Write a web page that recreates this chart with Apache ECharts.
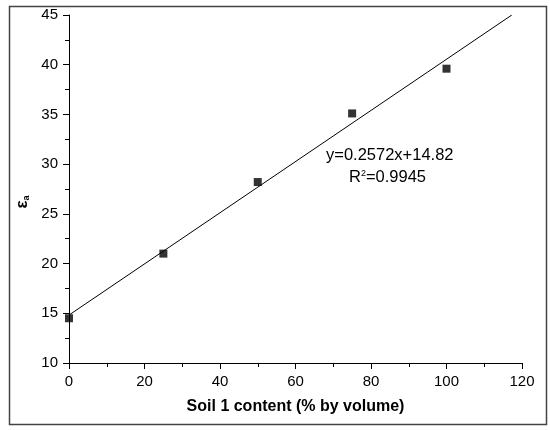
<!DOCTYPE html>
<html>
<head>
<meta charset="utf-8">
<script src="https://cdn.jsdelivr.net/npm/echarts@6/dist/echarts.min.js"></script>
<style>
html,body{margin:0;padding:0;background:#fff;}
#c{width:550px;height:430px;}
</style>
</head>
<body>
<div id="c"></div>
<script>
// Measured points
var soilContent = [0, 25, 50, 75, 100];
var epsilonA = [14.5, 21.0, 28.2, 35.1, 39.6];
// Linear fit line endpoints (as drawn)
var fitX = [0, 117.3];
var fitY = [14.82, 45.0];
var xTicks = [0, 20, 40, 60, 80, 100, 120];
var yTicks = [10, 15, 20, 25, 30, 35, 40, 45];
var eqText = 'y=0.2572x+14.82';
var r2Value = '0.9945';

var chart = echarts.init(document.getElementById('c'), null, {renderer: 'canvas'});
var font = 'Liberation Sans, Arial, sans-serif';
var option = {
  animation: false,
  backgroundColor: '#fff',
  grid: {left: 69, right: 28, top: 15, bottom: 67, containLabel: false},
  xAxis: {
    type: 'value', min: xTicks[0], max: xTicks[xTicks.length - 1], interval: 20,
    name: 'Soil 1 content (% by volume)', nameLocation: 'middle', nameGap: 36,
    nameMoveOverlap: false,
    nameTextStyle: {fontFamily: font, fontSize: 16, fontWeight: 'bold', color: '#000'},
    axisLine: {show: true, onZero: false, lineStyle: {color: '#000', width: 1}},
    axisTick: {show: true, inside: false, length: 6, lineStyle: {color: '#000'}},
    minorTick: {show: true, splitNumber: 2, length: 4, lineStyle: {color: '#000'}},
    axisLabel: {fontFamily: font, fontSize: 15, color: '#000', margin: 11},
    splitLine: {show: false}
  },
  yAxis: {
    type: 'value', min: yTicks[0], max: yTicks[yTicks.length - 1], interval: 5,
    name: '{e|ε}{s|a}', nameLocation: 'middle', nameGap: 38, nameRotate: 90,
    nameMoveOverlap: false,
    nameTextStyle: {
      padding: [0, 26, 0, 0],
      rich: {
        e: {fontFamily: font, fontSize: 17, fontWeight: 'bold', color: '#000'},
        s: {fontFamily: font, fontSize: 9, fontWeight: 'bold', color: '#000', padding: [8, 0, 0, 0]}
      }
    },
    axisLine: {show: true, onZero: false, lineStyle: {color: '#000', width: 1}},
    axisTick: {show: true, inside: false, length: 6, lineStyle: {color: '#000'}},
    minorTick: {show: true, splitNumber: 2, length: 4, lineStyle: {color: '#000'}},
    axisLabel: {fontFamily: font, fontSize: 15, color: '#000', margin: 11},
    splitLine: {show: false}
  },
  series: [
    {
      type: 'line',
      data: fitX.map(function (x, i) { return [x, fitY[i]]; }),
      showSymbol: false, symbol: 'none',
      lineStyle: {color: '#000', width: 1},
      clip: true, z: 2
    },
    {
      type: 'scatter',
      data: soilContent.map(function (x, i) { return [x, epsilonA[i]]; }),
      symbol: 'rect', symbolSize: 8,
      itemStyle: {color: '#000'},
      clip: true, z: 3
    }
  ],
  graphic: [
    {
      type: 'rect', left: 7, top: 4, z: 0, silent: true,
      shape: {width: 537, height: 418},
      style: {fill: 'none', stroke: '#444', lineWidth: 1.5}
    },
    {
      type: 'text', left: 326, top: 147, z: 10,
      style: {text: eqText, font: '16.5px ' + font, fill: '#000'}
    },
    {
      type: 'text', left: 349, top: 169, z: 10,
      style: {
        text: '{n|R}{s|2}{n|=' + r2Value + '}',
        rich: {
          n: {fontFamily: font, fontSize: 16.5, fill: '#000', color: '#000'},
          s: {fontFamily: font, fontSize: 9, fill: '#000', color: '#000', padding: [0, 0, 8, 0]}
        }
      }
    }
  ]
};
chart.setOption(option);
</script>
</body>
</html>
